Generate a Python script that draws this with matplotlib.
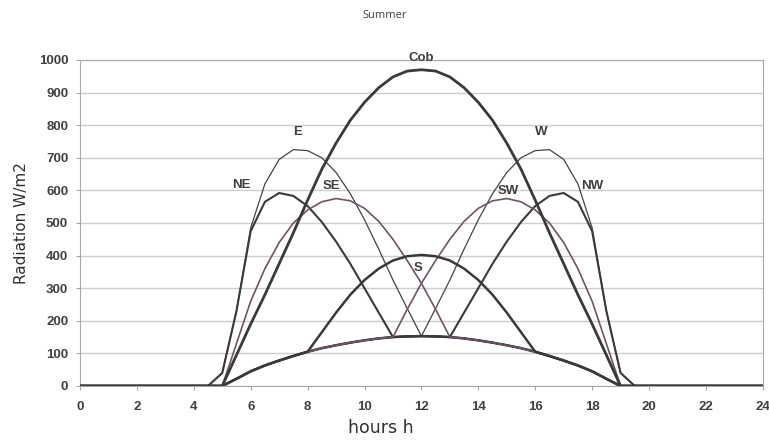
import matplotlib
matplotlib.use("Agg")
import matplotlib.pyplot as plt

# hours of the day (half-hour steps over daylight)
hours = [0, 4.5, 5, 5.5, 6, 6.5, 7, 7.5, 8, 8.5, 9, 9.5, 10, 10.5, 11, 11.5, 12,
         12.5, 13, 13.5, 14, 14.5, 15, 15.5, 16, 16.5, 17, 17.5, 18, 18.5, 19, 19.5, 24]

# radiation W/m2 per facade orientation
diffuse = [0, 0, 0, 22, 45, 63, 78, 92, 105, 116, 125, 133, 140, 146, 150, 152, 153,
           152, 150, 146, 140, 133, 125, 116, 105, 92, 78, 63, 45, 22, 0, 0, 0]
cob = [0, 0, 0, 95, 190, 280, 375, 470, 570, 665, 745, 815, 870, 915, 948, 966, 970,
       966, 948, 915, 870, 815, 745, 665, 570, 470, 375, 280, 190, 95, 0, 0, 0]
east = [0, 0, 40, 230, 485, 620, 695, 725, 722, 700, 655, 590, 510, 420, 325, 238, 153,
        152, 150, 146, 140, 133, 125, 116, 105, 92, 78, 63, 45, 22, 0, 0, 0]
west = [0, 0, 0, 22, 45, 63, 78, 92, 105, 116, 125, 133, 140, 146, 150, 152, 153,
        238, 325, 420, 510, 590, 655, 700, 722, 725, 695, 620, 485, 230, 40, 0, 0]
north_east = [0, 0, 40, 230, 475, 565, 592, 583, 552, 503, 443, 375, 300, 225, 150, 152, 153,
              152, 150, 146, 140, 133, 125, 116, 105, 92, 78, 63, 45, 22, 0, 0, 0]
north_west = [0, 0, 0, 22, 45, 63, 78, 92, 105, 116, 125, 133, 140, 146, 150, 152, 153,
              152, 150, 225, 300, 375, 443, 503, 552, 583, 592, 565, 475, 230, 40, 0, 0]
south_east = [0, 0, 0, 130, 260, 360, 440, 500, 540, 565, 575, 568, 545, 505, 450, 385, 315,
              235, 150, 146, 140, 133, 125, 116, 105, 92, 78, 63, 45, 22, 0, 0, 0]
south_west = [0, 0, 0, 22, 45, 63, 78, 92, 105, 116, 125, 133, 140, 146, 150, 235, 315,
              385, 450, 505, 545, 568, 575, 565, 540, 500, 440, 360, 260, 130, 0, 0, 0]
south = [0, 0, 0, 22, 45, 63, 78, 92, 105, 165, 225, 280, 325, 360, 385, 398, 402,
         398, 385, 360, 325, 280, 225, 165, 105, 92, 78, 63, 45, 22, 0, 0, 0]

labels = ["Cob", "E", "W", "NE", "NW", "SE", "SW", "S"]
label_pos = [(12.0, 1006), (7.66, 779), (16.2, 779), (5.69, 617), (17.99, 613),
             (8.85, 613), (15.04, 598), (11.88, 362)]

dark = "#3a3a3a"
mauve = "#6e5468"

fig = plt.figure(figsize=(7.69, 4.43), dpi=100)
ax = fig.add_axes([0.104, 0.1287, 0.888, 0.7359])

ax.plot(hours, diffuse, color=dark, lw=1.8, zorder=3)
ax.plot(hours, east, color="#444444", lw=0.9, zorder=3)
ax.plot(hours, west, color="#444444", lw=0.9, zorder=3)
ax.plot(hours, north_east, color=dark, lw=1.5, zorder=3)
ax.plot(hours, north_west, color=dark, lw=1.5, zorder=3)
ax.plot(hours, south_east, color=mauve, lw=1.2, zorder=3)
ax.plot(hours, south_west, color=mauve, lw=1.2, zorder=3)
ax.plot(hours, south, color=dark, lw=1.8, zorder=3)
ax.plot(hours, cob, color=dark, lw=2.0, zorder=4)

for name, (x, y) in zip(labels, label_pos):
    ax.text(x, y, name, ha="center", va="center", fontsize=9.5, fontweight="bold",
            color="#404040", family="Liberation Sans")

ax.set_xlim(0, 24)
ax.set_ylim(0, 1000)
ax.set_xticks(range(0, 25, 2))
ax.set_yticks(range(0, 1001, 100))
ax.grid(axis="y", color="#cccccc", lw=1)
ax.set_axisbelow(True)
for s in ax.spines.values():
    s.set_color("#a8a8a8")
ax.tick_params(colors="#a8a8a8", length=3, labelcolor="#404040", labelsize=9.5)
ax.tick_params(axis="x", pad=8)
ax.tick_params(axis="y", pad=5.5)
for t in ax.get_xticklabels() + ax.get_yticklabels():
    t.set_fontweight("bold")
    t.set_family("Liberation Sans")

ax.set_ylabel("Radiation W/m2", fontsize=11, color="#303030")
ax.yaxis.set_label_coords(-0.075, 0.5)
ax.set_xlabel("hours h", fontsize=12.5, color="#303030")
ax.xaxis.set_label_coords(0.44, -0.1)
fig.text(0.5, 0.966, "Summer", ha="center", va="center", fontsize=8, color="#404040",
         family="Open Sans")

fig.savefig("out.png", dpi=100)
